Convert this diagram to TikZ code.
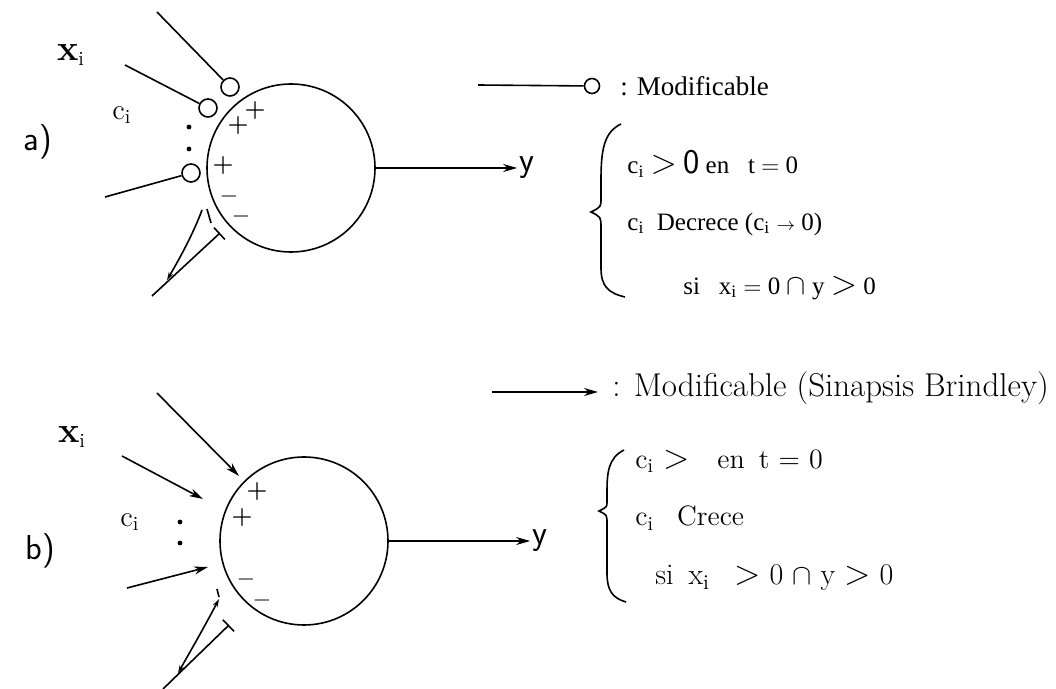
\documentclass[tikz,border=0pt]{standalone}
\usepackage{fontspec}
\usepackage{tikz}
\usetikzlibrary{arrows.meta}
\newfontfamily\timesfont{Liberation Serif}

\begin{document}
\begin{tikzpicture}[
 x=0.5pt,y=-0.5pt,
 wire/.style={line width=0.8pt},
 neuron/.style={draw,circle,wire,minimum size=84pt,inner sep=0pt},
 syn/.style={draw,circle,wire,minimum size=9pt,inner sep=0pt},
 arr/.style={wire,-{Stealth[length=7pt,width=4pt]}},
 arrs/.style={wire,{Stealth[length=4pt,width=2.5pt]}-{Stealth[length=4pt,width=2.5pt]}},
 bar/.style={wire,-{Bar[width=8pt]}},
 txta/.style={anchor=west,inner sep=0pt,font=\timesfont\fontsize{12.5}{15}\selectfont},
 txtb/.style={anchor=west,inner sep=0pt,font=\fontsize{14}{17}\selectfont},
 sgn/.style={inner sep=0pt,font=\large\bfseries},
 neg/.style={inner sep=0pt,font=\large},
 dot/.style={circle,fill,inner sep=0pt,minimum size=2.4pt},
 tag/.style={font=\sffamily\LARGE},
 var/.style={font=\Large},
 outy/.style={font=\sffamily\LARGE,inner sep=1pt}
]
\useasboundingbox (0,0) rectangle (1056,689);

\node[tag] (taga) at (38,142) {a)};
\node[var] (xa) at (71,55) {{\bfseries\fontsize{18}{20}\selectfont x}\textsubscript{i}};
\node[var] (ca) at (122,115) {c\textsubscript{i}};
\node[neuron] (na) at (291,168) {};
\node[syn] (sa1) at (230,87) {};
\node[syn] (sa2) at (208,108) {};
\node[syn] (sa3) at (191,173) {};
\coordinate (ia1) at (157,12);
\coordinate (ia2) at (125,65);
\coordinate (ia3) at (105,197);
\draw[wire] (ia1) -- (sa1);
\draw[wire] (ia2) -- (sa2);
\draw[wire] (ia3) -- (sa3);
\node[dot] (da1) at (189,127) {};
\node[dot] (da2) at (189,149) {};
\node[sgn] (pa1) at (255,111) {+};
\node[sgn] (pa2) at (238,126) {+};
\node[sgn] (pa3) at (223,166) {+};
\node[neg] (ma1) at (229,197) {$-$};
\node[neg] (ma2) at (241,217) {$-$};
\coordinate (ja) at (152,296);
\coordinate (ka) at (167,280);
\coordinate (ba) at (220,233);
\coordinate (fa) at (202,210);
\draw[bar] (ja) -- (ba);
\draw[wire,{Stealth[length=4pt,width=2.5pt]}-] (ka) .. controls (180,258) and (194,232) .. (fa);
\draw[wire] (207,209) -- (211,223);
\node[outy] (ya) at (527,168) {y};
\draw[arr] (na) -- (ya);

\coordinate (la) at (478,85);
\node[syn,minimum size=7.5pt] (lsa) at (592,86) {};
\draw[wire] (la) -- (lsa);
\node[txta,font=\timesfont\fontsize{13.5}{16}\selectfont] (tla) at (620,86) {: Modificable};
\draw[wire] (621,124) .. controls (604,132) and (601,150) .. (601,180) -- (601,198)
  .. controls (601,207) .. (591,212) .. controls (601,217) .. (601,228) -- (601,268)
  .. controls (601,286) and (608,293) .. (625,297);
\node[txta] (ra1) at (627,164) {c\textsubscript{i} {\LARGE$>$}\ {\sffamily\LARGE 0} en\enspace\ t $=$ 0};
\node[txta] (ra2) at (627,224) {c\textsubscript{i}\enspace Decrece (c\textsubscript{i} {\small$\rightarrow$} 0)};
\node[txta] (ra3) at (683,288) {si\enspace\ x\textsubscript{i} $=$ 0 {\Large$\cap$} y {\LARGE$>$} 0};

\node[tag] (tagb) at (40,551) {b)};
\node[var] (xb) at (72,437) {{\bfseries\fontsize{18}{20}\selectfont x}\textsubscript{i}};
\node[var] (cb) at (130,522) {c\textsubscript{i}};
\node[neuron] (nb) at (304,541) {};
\coordinate (ib1) at (157,393);
\coordinate (eb1) at (239,476);
\coordinate (ib2) at (122,456);
\coordinate (eb2) at (203,499);
\coordinate (ib3) at (127,588);
\coordinate (eb3) at (208,567);
\draw[arr] (ib1) -- (eb1);
\draw[arr] (ib2) -- (eb2);
\draw[arr] (ib3) -- (eb3);
\node[dot] (db1) at (180,522) {};
\node[dot] (db2) at (180,543) {};
\node[sgn] (pb1) at (257,492) {+};
\node[sgn] (pb2) at (242,518) {+};
\node[neg] (mb1) at (246,580) {$-$};
\node[neg] (mb2) at (262,601) {$-$};
\coordinate (jb) at (163,689);
\coordinate (kb) at (178,673);
\coordinate (bb) at (229,625);
\coordinate (fb) at (219,599);
\draw[bar] (jb) -- (bb);
\draw[arrs] (kb) .. controls (190,652) and (206,624) .. (fb);
\draw[wire] (217,589) -- (219,597);
\node[outy] (yb) at (540,541) {y};
\draw[arr] (nb) -- (yb);

\coordinate (lb) at (492,392);
\coordinate (lbe) at (598,392);
\draw[arr] (lb) -- (lbe);
\node[txtb,font=\fontsize{16.5}{19}\selectfont] (tlb) at (612,388) {: Modificable (Sinapsis Brindley)};
\draw[wire] (624,450) .. controls (608,458) and (607,473) .. (607,493) -- (607,502)
  .. controls (607,507) .. (599,511) .. controls (607,515) .. (607,523) -- (607,573)
  .. controls (607,590) and (612,598) .. (626,602);
\node[txtb] (rb1) at (635,461) {c\textsubscript{i} {\LARGE$>$}\quad en\enspace t = 0};
\node[txtb] (rb2) at (635,518) {c\textsubscript{i}\enspace\ Crece};
\node[txtb,font=\fontsize{15}{18}\selectfont] (rb3) at (655,578) {si\enspace x\textsubscript{i}\enspace\ {\LARGE$>$}\ 0\ {\Large$\cap$}\ y\ {\LARGE$>$}\ 0};
\end{tikzpicture}
\end{document}
